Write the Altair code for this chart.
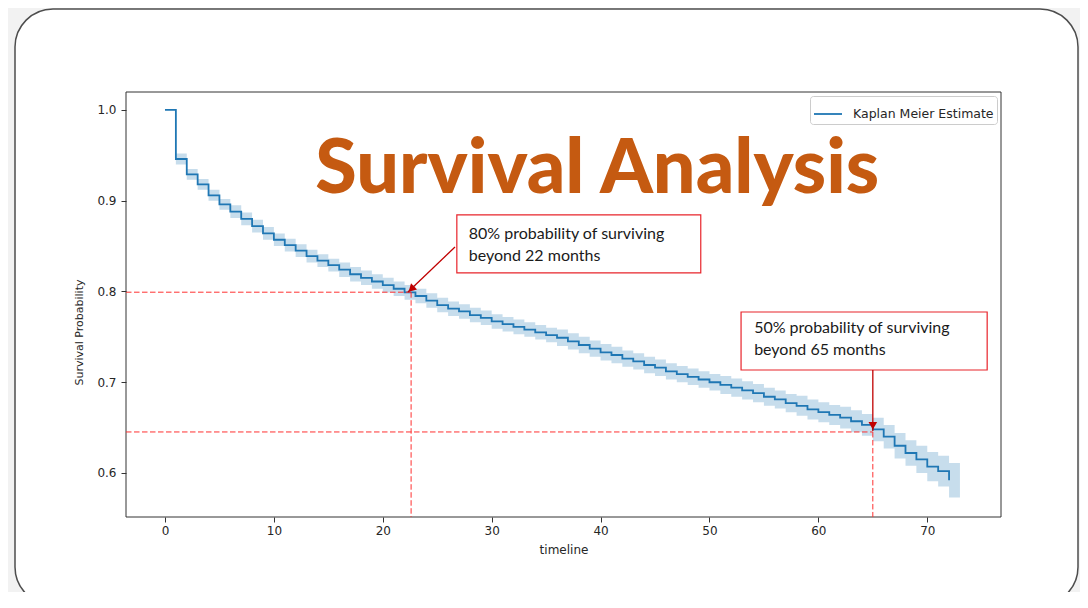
import altair as alt
import pandas as pd

# ---------------- data ----------------
timeline = list(range(0, 73))
survival = [1.000, 0.946, 0.929, 0.918, 0.906, 0.896, 0.888, 0.880, 0.872, 0.864,
            0.857, 0.851, 0.845, 0.839, 0.834, 0.829, 0.824, 0.819, 0.815, 0.811,
            0.807, 0.803, 0.799, 0.795, 0.790, 0.785, 0.781, 0.778, 0.774, 0.771,
            0.767, 0.764, 0.761, 0.758, 0.755, 0.752, 0.749, 0.745, 0.741, 0.737,
            0.733, 0.730, 0.726, 0.723, 0.719, 0.716, 0.712, 0.709, 0.706, 0.703,
            0.700, 0.697, 0.694, 0.691, 0.688, 0.684, 0.681, 0.677, 0.674, 0.670,
            0.667, 0.664, 0.661, 0.657, 0.653, 0.648, 0.640, 0.630, 0.622, 0.615,
            0.607, 0.602, 0.592]
ci_lower = [1.000, 0.940, 0.923, 0.912, 0.900, 0.890, 0.881, 0.873, 0.865, 0.857,
            0.850, 0.844, 0.838, 0.832, 0.827, 0.822, 0.816, 0.811, 0.807, 0.803,
            0.799, 0.795, 0.791, 0.787, 0.782, 0.777, 0.773, 0.770, 0.766, 0.763,
            0.759, 0.756, 0.753, 0.750, 0.747, 0.744, 0.740, 0.736, 0.732, 0.728,
            0.724, 0.721, 0.717, 0.714, 0.710, 0.707, 0.703, 0.700, 0.697, 0.694,
            0.691, 0.687, 0.684, 0.681, 0.678, 0.674, 0.671, 0.667, 0.663, 0.659,
            0.656, 0.653, 0.649, 0.645, 0.641, 0.635, 0.627, 0.616, 0.608, 0.600,
            0.591, 0.585, 0.573]
ci_upper = [1.000, 0.952, 0.935, 0.924, 0.912, 0.902, 0.895, 0.887, 0.879, 0.871,
            0.864, 0.858, 0.852, 0.846, 0.841, 0.836, 0.832, 0.827, 0.823, 0.819,
            0.815, 0.811, 0.807, 0.803, 0.798, 0.793, 0.789, 0.786, 0.782, 0.779,
            0.775, 0.772, 0.769, 0.766, 0.763, 0.760, 0.758, 0.754, 0.750, 0.746,
            0.742, 0.739, 0.735, 0.732, 0.728, 0.725, 0.721, 0.718, 0.715, 0.712,
            0.709, 0.707, 0.704, 0.701, 0.698, 0.694, 0.691, 0.687, 0.685, 0.681,
            0.678, 0.675, 0.673, 0.669, 0.665, 0.661, 0.653, 0.644, 0.636, 0.630,
            0.623, 0.619, 0.611]
band_end_time = 73

series_name = "Kaplan Meier Estimate"
x_domain = [-3.58, 76.77]
y_domain = [0.5515, 1.0198]
x_ticks = [0, 10, 20, 30, 40, 50, 60, 70]
y_ticks = [0.6, 0.7, 0.8, 0.9, 1.0]

title_text = ["Survival Analysis"]
title_pos = [(39.7, 0.909)]

# reference guides (dashed) : time, probability
guide_times = [22.6, 65.0]
guide_probs = [0.7992, 0.6452]

# annotation boxes: t0, t1, p0, p1
box_t0 = [26.8, 52.9]
box_t1 = [49.2, 75.5]
box_p0 = [0.8843, 0.7774]
box_p1 = [0.8204, 0.7135]
box_lines = [["80% probability of surviving", "beyond 22 months"],
             ["50% probability of surviving", "beyond 65 months"]]
text_t = [27.9, 54.1]
text_p_line1 = [0.8573, 0.7539]
text_p_line2 = [0.8336, 0.7300]

# arrows: start -> tip
arrow_t_start = [26.63, 65.0]
arrow_p_start = [0.8490, 0.7135]
arrow_t_tip = [22.31, 65.0]
arrow_p_tip = [0.7994, 0.6463]
head_t = [22.62, 65.0]
head_p = [0.8027, 0.6520]
head_angle = [226, 180]

# ---------------- tables ----------------
curve_df = pd.DataFrame({"t": timeline, "p": survival, "series": series_name})
band_df = pd.DataFrame({
    "t": timeline + [band_end_time],
    "lo": ci_lower + [ci_lower[-1]],
    "hi": ci_upper + [ci_upper[-1]],
})
hguide_df = pd.DataFrame({"t": [x_domain[0]] * 2, "t2": guide_times, "p": guide_probs})
vguide_df = pd.DataFrame({"t": guide_times, "p": guide_probs, "p2": [y_domain[0]] * 2})
box_df = pd.DataFrame({"t": box_t0, "t2": box_t1, "p": box_p0, "p2": box_p1})
text_df = pd.DataFrame({
    "t": text_t * 2,
    "p": text_p_line1 + text_p_line2,
    "label": [b[0] for b in box_lines] + [b[1] for b in box_lines],
})
arrow_df = pd.DataFrame({"t": arrow_t_start, "p": arrow_p_start,
                         "t2": arrow_t_tip, "p2": arrow_p_tip})
head_df = pd.DataFrame({"t": head_t, "p": head_p, "ang": head_angle})
title_df = pd.DataFrame({"t": [title_pos[0][0]], "p": [title_pos[0][1]], "label": title_text})

xscale = alt.Scale(domain=x_domain, nice=False, zero=False)
yscale = alt.Scale(domain=y_domain, nice=False, zero=False)
xaxis = alt.Axis(values=x_ticks, title="timeline", labelPadding=3, titlePadding=8,
                 titleFontSize=12, zindex=2)
yaxis = alt.Axis(values=y_ticks, format=".1f", title="Survival Probability",
                 labelPadding=5, titleFontSize=11, titleX=-42, titleY=240, zindex=2)


def X(f="t"):
    return alt.X(f"{f}:Q", scale=xscale, axis=xaxis)


def Y(f="p"):
    return alt.Y(f"{f}:Q", scale=yscale, axis=yaxis)


one_row = pd.DataFrame({"c": [1]})

card = alt.Chart(one_row).mark_rect(
    fill="white", stroke="#4d4d4d", strokeWidth=1.5, cornerRadius=38
).encode(x=alt.value(-111), x2=alt.value(952), y=alt.value(-83), y2=alt.value(513))

frame = alt.Chart(one_row).mark_rect(
    fillOpacity=0, stroke="#333333", strokeWidth=1
).encode(x=alt.value(0), x2=alt.value("width"), y=alt.value(0), y2=alt.value("height"))

band = alt.Chart(band_df).mark_area(
    interpolate="step-after", color="#1f77b4", opacity=0.25
).encode(x=X(), y=Y("lo"), y2="hi:Q")

line = alt.Chart(curve_df).mark_line(
    interpolate="step-after", strokeWidth=1.8
).encode(
    x=X(), y=Y(),
    color=alt.Color("series:N", scale=alt.Scale(range=["#1f77b4"]),
                    legend=alt.Legend(title=None, orient="top-right", offset=4,
                                      padding=3, strokeColor="#cccccc",
                                      fillColor="white", cornerRadius=3,
                                      symbolType="stroke", symbolSize=784,
                                      symbolStrokeWidth=1.8, labelOffset=10,
                                      labelFont="DejaVu Sans", labelFontSize=12.5,
                                      labelColor="#262626", zindex=2)),
)

hguide = alt.Chart(hguide_df).mark_rule(
    color="#ff3030", strokeWidth=1, strokeDash=[5.5, 2.5]
).encode(x=X(), x2="t2:Q", y=Y())
vguide = alt.Chart(vguide_df).mark_rule(
    color="#ff3030", strokeWidth=1, strokeDash=[5.5, 2.5]
).encode(x=X(), y=Y(), y2="p2:Q")

boxes = alt.Chart(box_df).mark_rect(
    fill="white", stroke="#e8242b", strokeWidth=1.2
).encode(x=X(), x2="t2:Q", y=Y(), y2="p2:Q")

texts = alt.Chart(text_df).mark_text(
    font="Lato", fontSize=16, color="#1a1a1a", align="left", baseline="alphabetic"
).encode(x=X(), y=Y(), text="label:N")

arrows = alt.Chart(arrow_df).mark_rule(color="#c00000", strokeWidth=1.3).encode(
    x=X(), y=Y(), x2="t2:Q", y2="p2:Q")
heads = alt.Chart(head_df).mark_point(
    shape="triangle-up", filled=True, color="#c00000", size=75, opacity=1
).encode(x=X(), y=Y(), angle=alt.Angle("ang:Q", scale=None))

title = alt.Chart(title_df).mark_text(
    font="Lato", fontWeight=900, fontSize=75.5, color="#C55A11",
    align="center", baseline="alphabetic"
).encode(x=X(), y=Y(), text="label:N")

chart = alt.layer(
    card, frame, band, line, hguide, vguide, boxes, texts, arrows, heads, title
).properties(
    width=875, height=425,
    padding={"left": 118, "top": 84, "right": 79, "bottom": 75},
    autosize="none",
).configure(
    background="#f2f2f2"
).configure_view(
    stroke=None
).configure_axis(
    domain=False, grid=False, labelFont="DejaVu Sans", labelFontSize=12,
    labelColor="#262626", tickColor="#333333", tickSize=5,
    titleFont="DejaVu Sans", titleFontWeight="normal", titleColor="#262626",
)

chart.save("out.html", embed_options={"renderer": "svg", "actions": False})
